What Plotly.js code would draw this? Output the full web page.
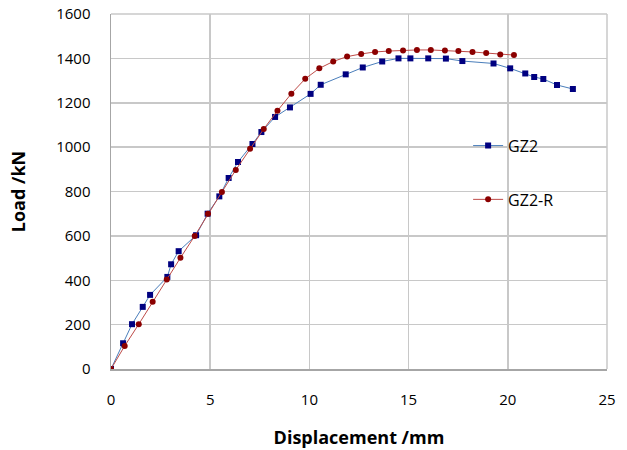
<!DOCTYPE html>
<html>
<head>
<meta charset="utf-8">
<script src="https://cdn.plot.ly/plotly-3.0.1.min.js"></script>
<style>html,body{margin:0;padding:0;background:#fff;}#chart{width:627px;height:450px;}</style>
</head>
<body>
<div id="chart"></div>
<script>
var gz2X = [0, 0.61, 1.06, 1.6, 1.97, 2.84, 3.03, 3.41, 4.29, 4.87, 5.46, 5.93, 6.4, 7.13, 7.58, 8.27, 9.02, 10.06, 10.57, 11.83, 12.69, 13.67, 14.49, 15.09, 15.99, 16.88, 17.71, 19.28, 20.12, 20.88, 21.33, 21.79, 22.48, 23.28];
var gz2Y = [0, 116, 202, 280, 334, 415, 472, 531, 603, 700, 778, 861, 933, 1014, 1068, 1136, 1179, 1240, 1281, 1328, 1359, 1386, 1400, 1400, 1400, 1399, 1388, 1377, 1355, 1332, 1316, 1307, 1280, 1262];
var gz2rX = [0, 0.69, 1.4, 2.1, 2.81, 3.5, 4.22, 4.89, 5.59, 6.29, 7.01, 7.7, 8.39, 9.09, 9.79, 10.5, 11.2, 11.9, 12.61, 13.31, 14.0, 14.72, 15.42, 16.12, 16.83, 17.51, 18.22, 18.91, 19.62, 20.31];
var gz2rY = [0, 104, 202, 303, 403, 501, 600, 700, 798, 897, 993, 1082, 1164, 1241, 1308, 1355, 1386, 1408, 1420, 1429, 1433, 1436, 1438, 1438, 1436, 1433, 1429, 1424, 1418, 1415];
var seriesNames = ["GZ2", "GZ2-R"];
var xTitle = "Displacement /mm";
var yTitle = "Load /kN";

var font = "Open Sans, Liberation Sans, sans-serif";
var traces = [
  {x: gz2X, y: gz2Y, name: seriesNames[0], type: "scatter", mode: "lines+markers",
   legendgroup: "a",
   line: {color: "#4a7ebb", width: 1},
   marker: {symbol: "square", size: 6, color: "#000080"}},
  {x: gz2rX, y: gz2rY, name: seriesNames[1], type: "scatter", mode: "lines+markers",
   legendgroup: "b",
   line: {color: "#be4b48", width: 1},
   marker: {symbol: "circle", size: 6, color: "#8b0000"}}
];
var layout = {
  width: 627, height: 450,
  margin: {l: 111, r: 20, t: 14, b: 81},
  paper_bgcolor: "#fff", plot_bgcolor: "#fff",
  font: {family: font, size: 15, color: "#000"},
  showlegend: true,
  legend: {x: 0.72, y: 0.677, xanchor: "left", yanchor: "top",
           bgcolor: "rgba(0,0,0,0)", tracegroupgap: 30,
           traceorder: "grouped", font: {family: font, size: 16, color: "#000"}},
  xaxis: {range: [0, 25], dtick: 5, tick0: 0, showgrid: true, gridcolor: "#c8c8c8", gridwidth: 1.5,
          showline: true, linecolor: "#a6a6a6", linewidth: 1.5, zeroline: false,
          ticks: "", ticklabelstandoff: 16, mirror: false,
          title: {text: xTitle, font: {family: font, size: 18, color: "#000", weight: "bold"}, standoff: 24}},
  yaxis: {range: [0, 1600], dtick: 200, tick0: 0, showgrid: true, gridcolor: "#c8c8c8", gridwidth: 1.5,
          showline: true, linecolor: "#a6a6a6", linewidth: 1.5, zeroline: false,
          ticks: "", ticklabelstandoff: 16,
          title: {text: yTitle, font: {family: font, size: 18, color: "#000", weight: "bold"}, standoff: 26}},
  shapes: [
    {type: "line", xref: "paper", yref: "paper", x0: 1, x1: 1, y0: 0, y1: 1, line: {color: "#c8c8c8", width: 1.5}},
    {type: "line", xref: "paper", yref: "paper", x0: 0, x1: 1, y0: 1, y1: 1, line: {color: "#c8c8c8", width: 1.5}}
  ]
};
Plotly.newPlot("chart", traces, layout, {displayModeBar: false, staticPlot: true});
</script>
</body>
</html>
